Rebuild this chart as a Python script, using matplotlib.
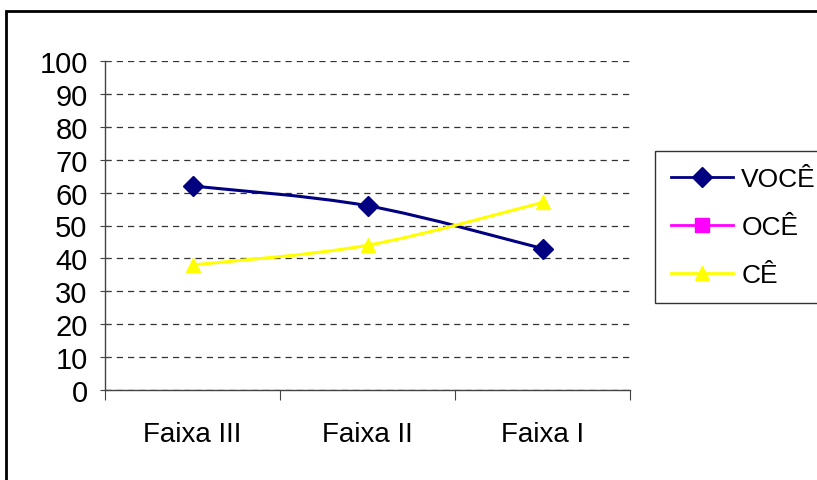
import numpy as np
import matplotlib
matplotlib.use('Agg')
import matplotlib.pyplot as plt
from matplotlib.path import Path
from matplotlib.patches import PathPatch, Rectangle
from matplotlib.lines import Line2D

plt.rcParams['font.family'] = ['Liberation Sans', 'DejaVu Sans']

categorias = ['Faixa III', 'Faixa II', 'Faixa I']
voce = [62, 56, 43]
oce = [np.nan, np.nan, np.nan]
ce = [38, 44, 57]
series = [('VOCÊ', voce, '#000080', 'D'),
          ('OCÊ', oce, '#FF00FF', 's'),
          ('CÊ', ce, '#FFFF00', '^')]


# smoothed line (catmull-rom as bezier) like excel does
def smooth_path(xs, ys):
    pts = np.column_stack([xs, ys])
    verts = [pts[0]]
    codes = [Path.MOVETO]
    for i in range(len(pts) - 1):
        p0 = pts[max(i - 1, 0)]
        p1 = pts[i]
        p2 = pts[i + 1]
        p3 = pts[min(i + 2, len(pts) - 1)]
        verts += [p1 + (p2 - p0) / 6, p2 - (p3 - p1) / 6, p2]
        codes += [Path.CURVE4] * 3
    return Path(verts, codes)


fig = plt.figure(figsize=(8.17, 4.81), dpi=100)
ax = fig.add_axes([105 / 817, 1 - 391 / 481, 525 / 817, 329 / 481])

x = np.arange(len(categorias))
handles = []
for nome, vals, cor, mk in series:
    v = np.array(vals, dtype=float)
    if not np.all(np.isnan(v)):
        ax.add_patch(PathPatch(smooth_path(x, v), fill=False, edgecolor=cor, lw=2.2, zorder=3))
        ax.plot(x, v, linestyle='none', marker=mk, color=cor, markersize=10, zorder=4)
    handles.append(Line2D([], [], color=cor, lw=2, marker=mk, markersize=10, label=nome))

ax.set_xlim(-0.5, 2.5)
ax.set_ylim(0, 100)
ax.set_yticks(range(0, 101, 10))
ax.set_xticks([-0.5, 0.5, 1.5, 2.5])
ax.set_xticklabels([])
ax.set_xticks(x, minor=True)
ax.set_xticklabels(categorias, minor=True)
ax.tick_params(axis='x', which='minor', length=0, pad=22, labelsize=20)
ax.tick_params(axis='x', which='major', length=7, direction='out', color='#444444')
ax.tick_params(axis='y', length=7, direction='inout', labelsize=21, pad=9, color='#444444')
ax.yaxis.grid(True, linestyle=(0, (5, 4)), color='#333333', lw=0.9)
ax.set_axisbelow(True)
for s in ['top', 'right']:
    ax.spines[s].set_visible(False)
for s in ['left', 'bottom']:
    ax.spines[s].set_color('#444444')
    ax.spines[s].set_linewidth(1)

leg = fig.legend(handles=handles, loc='upper left', bbox_to_anchor=(655 / 817, 1 - 152 / 481),
                 fontsize=19, frameon=True, fancybox=False, edgecolor='black',
                 handlelength=2.35, handletextpad=0.3, labelspacing=0.9, borderpad=0.62,
                 borderaxespad=0)
leg.get_frame().set_linewidth(1)

# outer chart frame
fig.patches.append(Rectangle((6 / 817, -0.1), 1.2, 1.1 - 12 / 481, transform=fig.transFigure,
                             fill=False, edgecolor='black', lw=2, zorder=0))

fig.savefig('out.png', dpi=100)
